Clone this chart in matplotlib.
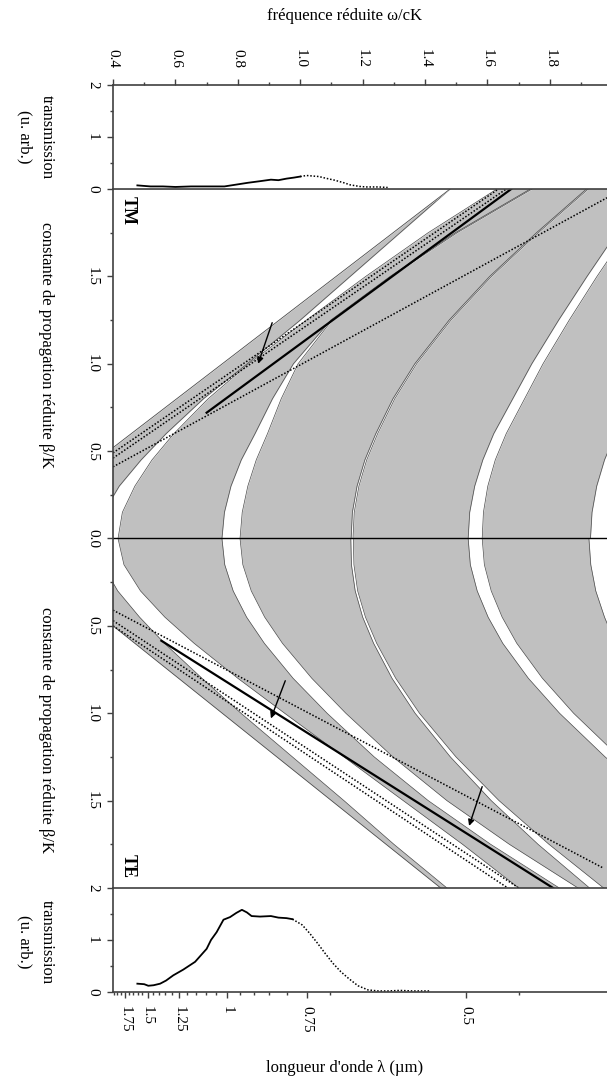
import matplotlib.pyplot as plt
from matplotlib.ticker import FixedLocator, MultipleLocator, FuncFormatter

plt.rcParams['font.family'] = ['Liberation Serif', 'DejaVu Serif']

GRAY = '#c0c0c0'
EDGE = '#4a4a4a'
A_PERIOD = 0.766   # période (µm) : ω/cK = a/λ

# ---- transmission (u. arb.) en fonction de ω/cK ----
tm_w = [0.478, 0.52, 0.56, 0.60, 0.65, 0.70, 0.757, 0.80, 0.832, 0.87, 0.906, 0.93, 0.956, 0.98, 1.0]
tm_t = [0.07, 0.05, 0.05, 0.04, 0.05, 0.05, 0.05, 0.09, 0.12, 0.15, 0.18, 0.17, 0.20, 0.22, 0.24]
tm_w_dot = [1.0, 1.02, 1.04, 1.06, 1.08, 1.11, 1.14, 1.16, 1.19, 1.21, 1.25, 1.28]
tm_t_dot = [0.24, 0.26, 0.25, 0.24, 0.21, 0.17, 0.12, 0.08, 0.05, 0.04, 0.04, 0.03]

te_w = [0.478, 0.50, 0.513, 0.53, 0.551, 0.57, 0.593, 0.625, 0.663, 0.70, 0.714, 0.732,
        0.754, 0.775, 0.795, 0.813, 0.829, 0.844, 0.871, 0.906, 0.93, 0.956, 0.975]
te_t = [0.16, 0.15, 0.12, 0.13, 0.16, 0.22, 0.32, 0.43, 0.58, 0.83, 1.0, 1.15,
        1.39, 1.44, 1.52, 1.58, 1.53, 1.46, 1.45, 1.46, 1.43, 1.42, 1.40]
te_w_dot = [0.975, 1.006, 1.03, 1.055, 1.08, 1.105, 1.13, 1.155, 1.185, 1.217, 1.25, 1.28, 1.32, 1.36, 1.415]
te_t_dot = [1.40, 1.29, 1.13, 0.94, 0.74, 0.55, 0.39, 0.26, 0.12, 0.04, 0.02, 0.02, 0.03, 0.02, 0.02]

# ---- diagramme de bandes : ω/cK des bords de bandes interdites pour chaque β/K ----
beta = [0, 0.15, 0.3, 0.45, 0.6, 0.8, 1.0, 1.25, 1.5, 1.75, 2.0]

# TE
te_light_b, te_light_w = [0.50, 2.0], [0.40, 1.45]
te_g1_lo = [0.35, 0.367, 0.415, 0.485, 0.565, 0.685, 0.81, 0.975, 1.14, 1.30, 1.47]
te_g1_hi = [0.416, 0.435, 0.488, 0.566, 0.66, 0.80, 0.95, 1.14, 1.33, 1.52, 1.70]
te_g2_lo = [0.749, 0.758, 0.785, 0.828, 0.885, 0.977, 1.086, 1.237, 1.41, 1.61, 1.83]
te_g2_hi = [0.807, 0.816, 0.843, 0.886, 0.943, 1.037, 1.146, 1.297, 1.47, 1.67, 1.89]
te_g3_lo = [1.162, 1.164, 1.176, 1.20, 1.235, 1.294, 1.368, 1.481, 1.612, 1.762, 1.927]
te_g3_hi = [1.170, 1.172, 1.184, 1.209, 1.245, 1.306, 1.382, 1.499, 1.637, 1.797, 1.972]
te_g4_lo = [1.538, 1.545, 1.567, 1.602, 1.649, 1.731, 1.831, 1.977, 2.14, 2.30, 2.47]
te_g4_hi = [1.583, 1.590, 1.612, 1.647, 1.694, 1.776, 1.876, 2.022, 2.19, 2.35, 2.52]
te_g5_lo = [1.925, 1.931, 1.947, 1.975, 2.01, 2.07, 2.14, 2.25, 2.37, 2.50, 2.65]
te_g5_hi = [1.995, 2.001, 2.017, 2.045, 2.08, 2.14, 2.21, 2.32, 2.44, 2.57, 2.72]

# TM
tm_light_b, tm_light_w = [0.52, 2.0], [0.40, 1.48]
tm_g1_lo = [0.35, 0.37, 0.42, 0.49, 0.57, 0.69, 0.83, 1.00, 1.16, 1.32, 1.48]
tm_g1_hi = [0.416, 0.43, 0.47, 0.525, 0.595, 0.705, 0.835, 1.02, 1.21, 1.41, 1.63]
tm_g2_lo = [0.749, 0.757, 0.778, 0.811, 0.855, 0.911, 0.978, 1.098, 1.288, 1.497, 1.737]
tm_g2_hi = [0.807, 0.814, 0.832, 0.859, 0.895, 0.939, 0.993, 1.102, 1.292, 1.503, 1.743]
tm_g3_lo = [1.163, 1.167, 1.182, 1.207, 1.242, 1.297, 1.367, 1.477, 1.607, 1.757, 1.917]
tm_g3_hi = [1.169, 1.173, 1.188, 1.213, 1.248, 1.303, 1.373, 1.483, 1.613, 1.763, 1.923]
tm_g4_lo = [1.538, 1.543, 1.559, 1.585, 1.62, 1.681, 1.742, 1.828, 1.919, 2.014, 2.114]
tm_g4_hi = [1.583, 1.587, 1.601, 1.625, 1.66, 1.719, 1.778, 1.862, 1.951, 2.046, 2.146]
tm_g5_lo = [1.93, 1.935, 1.95, 1.975, 2.01, 2.07, 2.14, 2.25, 2.37, 2.50, 2.65]
tm_g5_hi = [1.99, 1.995, 2.01, 2.035, 2.07, 2.13, 2.20, 2.31, 2.43, 2.56, 2.71]

# modes (trait plein) et droites de couplage (pointillés)
te_mode_b, te_mode_w = [0.585, 2.0], [0.555, 1.81]
tm_mode_b, tm_mode_w = [0.72, 2.0], [0.70, 1.676]
te_dots = [([0.41, 1.885], [0.40, 1.97]), ([0.47, 2.0], [0.40, 1.70]), ([0.50, 2.0], [0.40, 1.665])]
tm_dots = [([0.41, 1.95], [0.40, 1.983]), ([0.49, 2.0], [0.40, 1.635]), ([0.46, 2.0], [0.40, 1.66])]
# flèches : (ω, β) pointe, (ω, β) queue
te_arrows = [((0.906, 1.03), (0.952, 0.814)), ((1.541, 1.645), (1.583, 1.42))]
tm_arrows = [((0.865, 1.00), (0.91, 1.235))]

lam_major = [1.75, 1.5, 1.25, 1, 0.75, 0.5]
lam_labels = ['1.75', '1.5', '1.25', '1', '0.75', '0.5']
lam_minor = [1.9, 1.85, 1.8, 1.7, 1.65, 1.6, 1.55, 1.45, 1.4, 1.35, 1.3, 1.2, 1.15, 1.1, 1.05,
             0.95, 0.9, 0.85, 0.8, 0.7, 0.45]

W0, W1 = 0.4, 1.983

fig = plt.figure(figsize=(6.07, 10.87), dpi=100)
ax = fig.add_axes([0.1862, 0.1831, 0.8138, 0.6430])
ax_t = fig.add_axes([0.1862, 0.8261, 0.8138, 0.0957])
ax_b = fig.add_axes([0.1862, 0.0874, 0.8138, 0.0957])

# bandes permises en gris, bandes interdites en blanc
ax.set_facecolor(GRAY)
sides = [
    (-1, te_light_b, te_light_w, [(te_g1_lo, te_g1_hi), (te_g2_lo, te_g2_hi), (te_g3_lo, te_g3_hi),
                                  (te_g4_lo, te_g4_hi), (te_g5_lo, te_g5_hi)]),
    (1, tm_light_b, tm_light_w, [(tm_g1_lo, tm_g1_hi), (tm_g2_lo, tm_g2_hi), (tm_g3_lo, tm_g3_hi),
                                 (tm_g4_lo, tm_g4_hi), (tm_g5_lo, tm_g5_hi)]),
]
for sign, light_b, light_w, gaps in sides:
    s = [sign * b for b in beta]
    for lo, hi in gaps:
        ax.fill_betweenx(s, lo, hi, color='white', lw=0, zorder=1)
        ax.plot(lo, s, color=EDGE, lw=0.5, zorder=2)
        ax.plot(hi, s, color=EDGE, lw=0.5, zorder=2)
    sl = [sign * b for b in light_b]
    ax.fill_betweenx(sl, [0.0, 0.0], light_w, color='white', lw=0, zorder=3)
    ax.plot(light_w, sl, color=EDGE, lw=0.6, zorder=4)

for (b, w), sign in [((te_mode_b, te_mode_w), -1), ((tm_mode_b, tm_mode_w), 1)]:
    ax.plot(w, [sign * v for v in b], color='black', lw=1.6, zorder=6)
for dots, sign in [(te_dots, -1), (tm_dots, 1)]:
    for b, w in dots:
        ax.plot(w, [sign * v for v in b], color='black', lw=1.1, ls=(0, (1, 1.2)), zorder=5)
for arrows, sign in [(te_arrows, -1), (tm_arrows, 1)]:
    for (wt, bt), (wq, bq) in arrows:
        ax.annotate('', xy=(wt, sign * bt), xytext=(wq, sign * bq),
                    arrowprops=dict(arrowstyle='-|>', color='black', lw=1.0,
                                    mutation_scale=9, shrinkA=0, shrinkB=0), zorder=7)

ax.axhline(0, color='black', lw=1.0, zorder=8)
ax.set_xlim(W0, W1)
ax.set_ylim(-2, 2)
ax.set_xticks([])
for sp in ['top', 'right', 'bottom']:
    ax.spines[sp].set_visible(False)
ax.spines['left'].set_color('#404040')
ax.spines['left'].set_linewidth(1.2)
ax.spines['left'].set_zorder(9)
ax.yaxis.set_major_locator(FixedLocator([-1.5, -1.0, -0.5, 0.0, 0.5, 1.0, 1.5]))
ax.yaxis.set_minor_locator(FixedLocator([-1.75, -1.25, -0.75, -0.25, 0.25, 0.75, 1.25, 1.75]))
ax.yaxis.set_major_formatter(FuncFormatter(lambda v, p: f'{abs(v):.1f}'))
ax.tick_params(axis='y', which='major', direction='out', length=4, width=1, labelsize=11,
               pad=6, colors='#404040', labelcolor='black')
ax.tick_params(axis='y', which='minor', direction='out', length=2.5, width=1, colors='#404040')
for lab in ax.get_yticklabels():
    lab.set_rotation(-90)
    lab.set_va('center')

# panneaux de transmission
for a, w, t, wd, td in [(ax_t, tm_w, tm_t, tm_w_dot, tm_t_dot), (ax_b, te_w, te_t, te_w_dot, te_t_dot)]:
    a.plot(w, t, color='black', lw=1.3)
    a.plot(wd, td, color='black', lw=1.1, ls=(0, (1, 1.2)))
    a.set_xlim(W0, W1)
    a.set_ylim(0, 2)
    a.spines['right'].set_visible(False)
    for sp in ['left', 'top', 'bottom']:
        a.spines[sp].set_color('#404040')
        a.spines[sp].set_linewidth(1.2)
    a.yaxis.set_major_locator(FixedLocator([0, 1, 2]))
    a.yaxis.set_minor_locator(FixedLocator([0.5, 1.5]))
    a.tick_params(axis='y', which='major', direction='out', length=4, width=1, labelsize=11,
                  pad=6, colors='#404040', labelcolor='black')
    a.tick_params(axis='y', which='minor', direction='out', length=2.5, width=1, colors='#404040')
    for lab in a.get_yticklabels():
        lab.set_rotation(-90)
        lab.set_va('center')

ax_t.xaxis.tick_top()
ax_t.xaxis.set_major_locator(MultipleLocator(0.2))
ax_t.xaxis.set_minor_locator(MultipleLocator(0.1))
ax_t.xaxis.set_major_formatter(FuncFormatter(lambda v, p: f'{v:.1f}'))
ax_t.tick_params(axis='x', which='major', direction='out', length=4, width=1, labelsize=11,
                 pad=8, colors='#404040', labelcolor='black', labelrotation=-90)
ax_t.tick_params(axis='x', which='minor', direction='out', length=2.5, width=1, colors='#404040')

ax_b.xaxis.set_major_locator(FixedLocator([A_PERIOD / l for l in lam_major]))
ax_b.xaxis.set_minor_locator(FixedLocator([A_PERIOD / l for l in lam_minor]))
ax_b.set_xticklabels(lam_labels)
ax_b.tick_params(axis='x', which='major', direction='out', length=4, width=1, labelsize=11,
                 pad=6, colors='#404040', labelcolor='black', labelrotation=-90)
ax_b.tick_params(axis='x', which='minor', direction='out', length=2.5, width=1, colors='#404040')

# textes
H = 1087.0


def fy(py):
    return 1 - py / H


fig.text(345 / 607, fy(16), 'fréquence réduite ω/cK', ha='center', va='center', fontsize=12)
fig.text(345 / 607, fy(1068), "longueur d'onde λ (µm)", ha='center', va='center', fontsize=12)
for py in (137, 942):
    fig.text(47 / 607, fy(py), 'transmission', rotation=-90, ha='center', va='center', fontsize=12)
    fig.text(25 / 607, fy(py), '(u. arb.)', rotation=-90, ha='center', va='center', fontsize=12)
for py in (345, 730):
    fig.text(46 / 607, fy(py), 'constante de propagation réduite β/K', rotation=-90,
             ha='center', va='center', fontsize=12)
fig.text(128 / 607, fy(210), 'TM', rotation=-90, ha='center', va='center', fontsize=13, weight='bold')
fig.text(128 / 607, fy(866), 'TE', rotation=-90, ha='center', va='center', fontsize=13, weight='bold')

fig.savefig('out.png', dpi=100)
